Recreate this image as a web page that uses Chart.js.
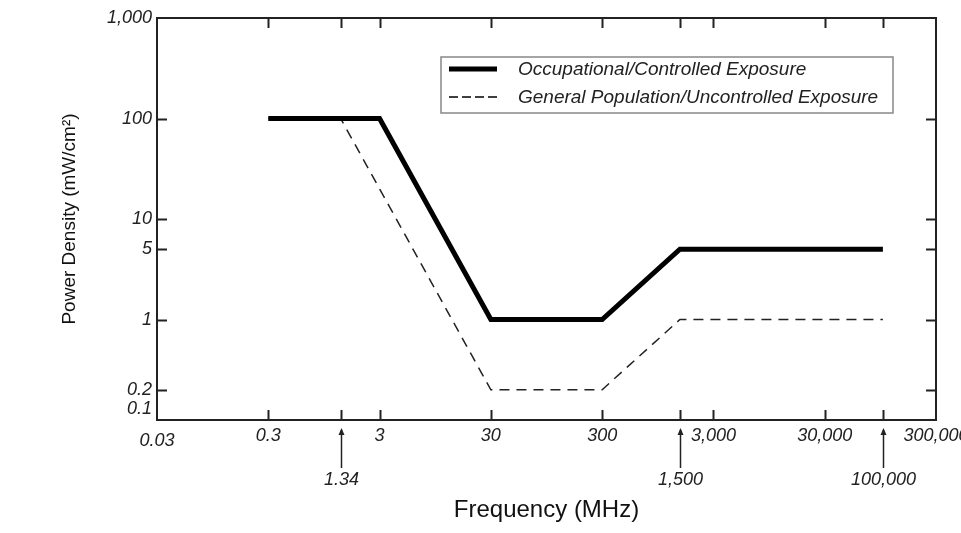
<!DOCTYPE html>
<html>
<head>
<meta charset="utf-8">
<script src="https://cdn.jsdelivr.net/npm/chart.js@4"></script>
<style>
  html, body { margin: 0; padding: 0; background: #fff; }
  #wrap { width: 961px; height: 533px; }
</style>
</head>
<body>
<div id="wrap"><canvas id="rf_chart"></canvas></div>
<script>
const occFreq = [0.3, 3, 30, 300, 1500, 100000];
const occDensity = [100, 100, 1, 1, 5, 5];
const genFreq = [0.3, 1.34, 30, 300, 1500, 100000];
const genDensity = [100, 100, 0.2, 0.2, 1, 1];

const xTickValues = [0.03, 0.3, 3, 30, 300, 3000, 30000, 300000];
const yTickValues = [0.1, 0.2, 1, 5, 10, 100, 1000];
const xMarkValues = [0.3, 1.34, 3, 30, 300, 1500, 3000, 30000, 100000];
const yMarkValues = [0.2, 1, 5, 10, 100];
const arrowFreq = [1.34, 1500, 100000];
const arrowLabels = ['1.34', '1,500', '100,000'];
const seriesNames = ['Occupational/Controlled Exposure', 'General Population/Uncontrolled Exposure'];

const ctx = document.querySelector('#rf_chart');
const fmt = v => v.toLocaleString('en-US', { maximumFractionDigits: 2 });
const tickFont = { family: 'Liberation Sans, Arial, sans-serif', size: 18, style: 'italic' };

const toPoints = (xs, ys) => xs.map((x, i) => ({ x: x, y: ys[i] }));

// frame, inward tick marks, arrows and the boxed legend
const decor = {
    id: 'decor',
    afterDatasetsDraw(chart) {
        const c = chart.ctx;
        const a = chart.chartArea;
        const xs = chart.scales.x;
        const ys = chart.scales.y;
        c.save();
        c.strokeStyle = '#222';
        c.lineWidth = 2;
        c.strokeRect(a.left, a.top, a.right - a.left, a.bottom - a.top);

        c.beginPath();
        xMarkValues.forEach(v => {
            const px = Math.round(xs.getPixelForValue(v)) + 0.5;
            c.moveTo(px, a.bottom); c.lineTo(px, a.bottom - 10);
            c.moveTo(px, a.top); c.lineTo(px, a.top + 10);
        });
        yMarkValues.forEach(v => {
            const py = Math.round(ys.getPixelForValue(v)) + 0.5;
            c.moveTo(a.left, py); c.lineTo(a.left + 10, py);
            c.moveTo(a.right, py); c.lineTo(a.right - 10, py);
        });
        c.stroke();

        // arrows below the axis
        c.lineWidth = 1.5;
        c.fillStyle = '#222';
        c.font = 'italic 18px "Liberation Sans", Arial, sans-serif';
        c.textAlign = 'center';
        c.textBaseline = 'middle';
        arrowFreq.forEach((v, i) => {
            const px = Math.round(xs.getPixelForValue(v)) + 0.5;
            const tip = a.bottom + 8;
            c.beginPath();
            c.moveTo(px, tip + 2); c.lineTo(px, a.bottom + 48);
            c.stroke();
            c.beginPath();
            c.moveTo(px, tip); c.lineTo(px - 3, tip + 7); c.lineTo(px + 3, tip + 7);
            c.closePath();
            c.fill();
            c.fillText(arrowLabels[i], px, a.bottom + 60);
        });

        // legend box
        const bx = 441, by = 57, bw = 452, bh = 56;
        c.strokeStyle = '#888';
        c.lineWidth = 1.5;
        c.strokeRect(bx, by, bw, bh);
        c.strokeStyle = '#000';
        c.lineWidth = 5;
        c.beginPath(); c.moveTo(449, 69); c.lineTo(497, 69); c.stroke();
        c.lineWidth = 1.5;
        c.setLineDash([9, 4]);
        c.beginPath(); c.moveTo(449, 97); c.lineTo(497, 97); c.stroke();
        c.setLineDash([]);
        c.font = 'italic 19px "Liberation Sans", Arial, sans-serif';
        c.textAlign = 'left';
        c.fillStyle = '#222';
        c.fillText(seriesNames[0], 518, 70);
        c.fillText(seriesNames[1], 518, 98);
        c.restore();
    }
};

const data = {
    datasets: [
        {
            label: seriesNames[0],
            data: toPoints(occFreq, occDensity),
            borderColor: '#000',
            borderWidth: 5,
            pointRadius: 0,
            fill: false,
            tension: 0
        },
        {
            label: seriesNames[1],
            data: toPoints(genFreq, genDensity),
            borderColor: '#222',
            borderWidth: 1.5,
            borderDash: [10, 7],
            pointRadius: 0,
            fill: false,
            tension: 0
        }
    ]
};

const options = {
    responsive: true,
    maintainAspectRatio: false,
    animation: false,
    layout: { padding: { top: 18, right: 25, left: 0, bottom: 0 } },
    plugins: {
        legend: { display: false },
        tooltip: { enabled: false }
    },
    scales: {
        x: {
            type: 'logarithmic',
            min: 0.03,
            max: 300000,
            grid: { display: false, drawTicks: false },
            border: { display: false },
            afterBuildTicks: s => { s.ticks = xTickValues.map(v => ({ value: v })); },
            afterFit: s => { s.height = 113; s.paddingLeft = 0; s.paddingRight = 0; },
            ticks: {
                autoSkip: false,
                maxRotation: 0,
                padding: 5,
                color: '#222',
                // the lowest label sits a little lower in the original
                font: c => c.index === 0 ? Object.assign({}, tickFont, { lineHeight: 1.75 }) : tickFont,
                callback: value => fmt(value)
            },
            title: {
                display: true,
                text: 'Frequency (MHz)',
                color: '#111',
                font: { family: 'Liberation Sans, Arial, sans-serif', size: 24 },
                padding: { top: 0, bottom: 8 }
            }
        },
        y: {
            type: 'logarithmic',
            min: 0.1,
            max: 1000,
            grid: { display: false, drawTicks: false },
            border: { display: false },
            afterBuildTicks: s => { s.ticks = yTickValues.map(v => ({ value: v })); },
            afterFit: s => { s.width = 157; },
            ticks: {
                autoSkip: false,
                padding: 5,
                color: '#222',
                font: tickFont,
                // 0.1 is lifted half a line above the corner
                callback: (value, i) => i === 0 ? [fmt(value), ''] : fmt(value)
            },
            title: {
                display: true,
                text: 'Power Density (mW/cm²)',
                color: '#111',
                font: { family: 'Liberation Sans, Arial, sans-serif', size: 19 },
                padding: { top: 58, bottom: 0 }
            }
        }
    }
};

new Chart(ctx, {
    type: 'line',
    data: data,
    options: options,
    plugins: [decor]
});
</script>
</body>
</html>
